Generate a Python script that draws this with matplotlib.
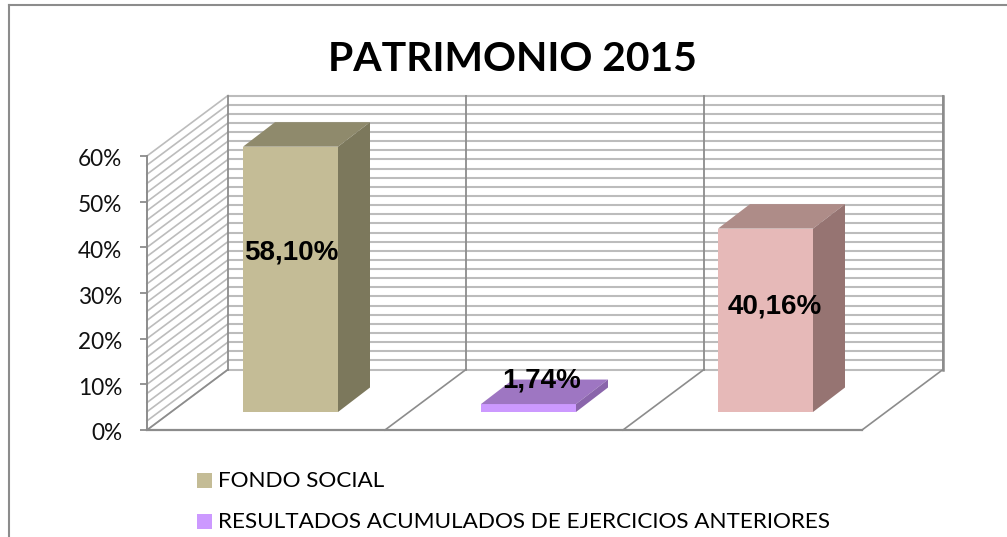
import matplotlib
matplotlib.use('Agg')
import matplotlib.pyplot as plt
from matplotlib.patches import Polygon, Rectangle
from matplotlib.transforms import ScaledTranslation

# data
categories = ['FONDO SOCIAL', 'RESULTADOS ACUMULADOS DE EJERCICIOS ANTERIORES', '']
values = [58.10, 1.74, 40.16]
labels = ['58,10%', '1,74%', '40,16%']
ticks = [0, 10, 20, 30, 40, 50, 60]
tick_labels = ['0%', '10%', '20%', '30%', '40%', '50%', '60%']
title = 'PATRIMONIO 2015'

# colours: front, top, side
front = ['#c4bc96', '#cc99ff', '#e6b9b8']
top = ['#8f8a6c', '#9e76c2', '#ae8c88']
side = ['#7c785c', '#8a65ab', '#967472']
grid_col = '#bcbcbc'
axis_col = '#8c8c8c'

# x is in pixels, y in percent
W, H = 1007, 537
px_per_pct = (430 - 156) / 60.0
def py(p):
    return (430 - p) / px_per_pct

fig = plt.figure(figsize=(W / 100, H / 100), dpi=100)
ax = fig.add_axes([0, 0, 1, 1])
ax.set_xlim(0, W)
ax.set_ylim(py(H), py(0))
ax.patch.set_visible(False)

x0, x1 = 147, 862
dx = 81
dy = 60.5 / px_per_pct

# walls
for g in range(0, 62, 2):
    ax.plot([x0 + dx, x1 + dx], [g + dy, g + dy], color=grid_col, lw=1.5, zorder=1)
    ax.plot([x0, x0 + dx], [g, g + dy], color=grid_col, lw=1.2, zorder=1)

# verticals and floor
slots = [x0, 385, 623, x1]
for s in slots:
    ax.plot([s + dx, s + dx], [dy, 60 + dy], color=axis_col, lw=1.3, zorder=2)
    ax.plot([s, s + dx], [0, dy], color=axis_col, lw=1.2, zorder=2)
ax.plot([x1 + dx, x1 + dx], [dy, 60 + dy], color=axis_col, lw=1.8, zorder=2)
ax.plot([x0, x1], [0, 0], color=axis_col, lw=1.6, zorder=2)

# bars
bar_x = [243, 481, 718]
bar_w = 95
base = 18 / px_per_pct
bx = 32
by = 24.5 / px_per_pct
for i, v in enumerate(values):
    xl = bar_x[i]
    xr = xl + bar_w
    t = base + v
    ax.bar(xl, v, bar_w, bottom=base, align='edge', color=front[i], zorder=3)
    ax.add_patch(Polygon([(xl, t), (xr, t), (xr + bx, t + by), (xl + bx, t + by)],
                         closed=True, facecolor=top[i], edgecolor='none', zorder=3))
    ax.add_patch(Polygon([(xr, base), (xr + bx, base + by), (xr + bx, t + by), (xr, t)],
                         closed=True, facecolor=side[i], edgecolor='none', zorder=3))

# data labels
label_pos = [(291, 253), (542, 380), (775, 307)]
for (lx, ly), s in zip(label_pos, labels):
    ax.text(lx, py(ly), s, ha='center', va='center', fontsize=20, fontweight='bold',
            family='Liberation Sans', color='black', zorder=5)

# y axis
for name in ['top', 'right', 'bottom']:
    ax.spines[name].set_visible(False)
ax.spines['left'].set_position(('data', x0))
ax.spines['left'].set_bounds(0, 60)
ax.spines['left'].set_color(axis_col)
ax.spines['left'].set_linewidth(1.4)
ax.set_xticks([])
ax.set_yticks(ticks)
ax.set_yticklabels(tick_labels, family='Lato', fontsize=16.3, color='#111111')
ax.tick_params(axis='y', length=5, width=1.3, color=axis_col, pad=13)
for lab in ax.get_yticklabels():
    lab.set_transform(lab.get_transform() + ScaledTranslation(0, -2 / 100, fig.dpi_scale_trans))

# title
ax.text(512, py(59.5), title, ha='center', va='center', fontsize=29.4, fontweight='bold',
        family='Lato', color='black')

# legend
leg_y = [480, 521]
for i in range(2):
    ax.add_patch(Rectangle((197, py(leg_y[i] + 7.5)), 15, 15 / px_per_pct,
                           facecolor=front[i], edgecolor='none', zorder=4))
    ax.text(218, py(leg_y[i] + 1), categories[i], ha='left', va='center', fontsize=16.2,
            family='Lato', color='black')

# frame of the chart area
ax.plot([9, 9], [py(5), py(H)], color=axis_col, lw=1.5, clip_on=False)
ax.plot([9, W], [py(5), py(5)], color=axis_col, lw=1.5, clip_on=False)

fig.savefig('out.png', dpi=100, facecolor='white')
